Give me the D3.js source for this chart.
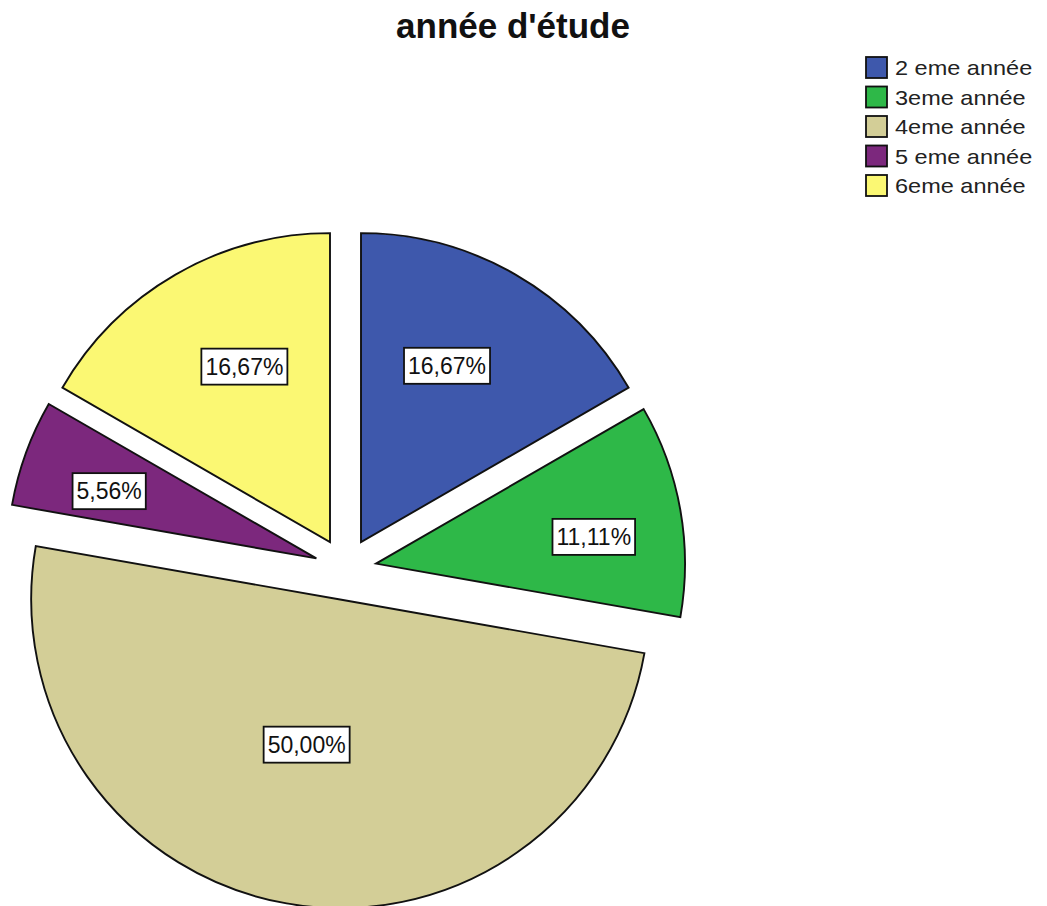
<!DOCTYPE html>
<html>
<head>
<meta charset="utf-8">
<script src="https://cdn.jsdelivr.net/npm/d3@7"></script>
<style>
  html, body { margin: 0; padding: 0; background: #ffffff; }
  svg { display: block; font-family: "Liberation Sans", Arial, sans-serif; }
</style>
</head>
<body>
<svg id="chart" width="1047" height="906"></svg>
<script>
// Year-of-study distribution
const categories = ["2 eme année", "3eme année", "4eme année", "5 eme année", "6eme année"];
const percentages = [16.67, 11.11, 50.00, 5.56, 16.67];
const percentLabels = ["16,67%", "11,11%", "50,00%", "5,56%", "16,67%"];
const sliceColors = ["#3e58ac", "#2eb848", "#d3ce97", "#7c287d", "#fbf873"];
const chartTitle = "année d'étude";

const width = 1047, height = 906;
const svg = d3.select("#chart");

// Pie geometry
const cx = 345.5, cy = 569;
const radius = 309;
const explode = 31;

// Label placement: tweak on the mid-angle (degrees) and distance as a fraction of the radius
const labelAngleShift = [-4, 3, 3, -2, 4];
const labelRadiusFrac = [0.635, 0.71, 0.482, 0.705, 0.632];

const pie = d3.pie().sort(null).value(d => d.value).startAngle(0).endAngle(2 * Math.PI);
const arcs = pie(categories.map((c, i) => ({ name: c, value: percentages[i], label: percentLabels[i], color: sliceColors[i] })));
const arcGen = d3.arc().innerRadius(0).outerRadius(radius);

const pieG = svg.append("g").attr("transform", `translate(${cx},${cy})`);

const slices = pieG.selectAll("g.slice")
  .data(arcs)
  .join("g")
  .attr("class", "slice")
  .attr("transform", d => {
    const mid = (d.startAngle + d.endAngle) / 2;
    return `translate(${explode * Math.sin(mid)},${-explode * Math.cos(mid)})`;
  });

slices.append("path")
  .attr("d", arcGen)
  .attr("fill", d => d.data.color)
  .attr("stroke", "#111")
  .attr("stroke-width", 1.9)
  .attr("stroke-linejoin", "miter");

// Value labels in white boxes
slices.each(function(d, i) {
  const g = d3.select(this);
  const mid = (d.startAngle + d.endAngle) / 2 + labelAngleShift[i] * Math.PI / 180;
  const r = radius * labelRadiusFrac[i];
  const lx = r * Math.sin(mid), ly = -r * Math.cos(mid);
  const lg = g.append("g").attr("transform", `translate(${lx},${ly})`);
  const rect = lg.append("rect");
  const t = lg.append("text")
    .attr("text-anchor", "middle")
    .attr("dominant-baseline", "central")
    .attr("font-size", 23)
    .attr("fill", "#111")
    .text(d.data.label);
  const bb = t.node().getBBox();
  rect.attr("x", bb.x - 4).attr("y", -18)
    .attr("width", bb.width + 8).attr("height", 36)
    .attr("fill", "#fff").attr("stroke", "#111").attr("stroke-width", 1.8);
});

// Title
svg.append("text")
  .attr("x", 513).attr("y", 38)
  .attr("text-anchor", "middle")
  .attr("font-size", 35)
  .attr("font-weight", "bold")
  .attr("fill", "#111")
  .text(chartTitle);

// Legend
const legend = svg.append("g").attr("transform", "translate(866,57)");
const rowH = 29.5;
const items = legend.selectAll("g").data(categories).join("g")
  .attr("transform", (d, i) => `translate(0,${i * rowH})`);
items.append("rect")
  .attr("width", 21).attr("height", 21)
  .attr("fill", (d, i) => sliceColors[i])
  .attr("stroke", "#111").attr("stroke-width", 1.8);
items.append("text")
  .attr("transform", "translate(29,11) scale(1.12,1)")
  .attr("dominant-baseline", "central")
  .attr("font-size", 21)
  .attr("fill", "#222")
  .text(d => d);
</script>
</body>
</html>
